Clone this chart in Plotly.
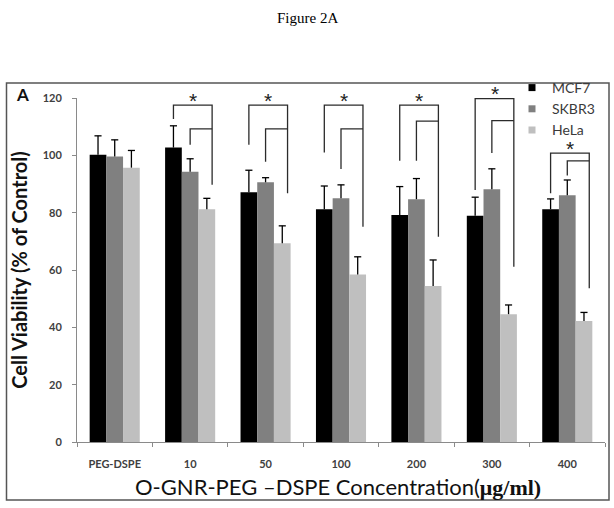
import plotly.graph_objects as go

# ---------------- data ----------------
categories = ["PEG-DSPE", "10", "50", "100", "200", "300", "400"]
series_names = ["MCF7", "SKBR3", "HeLa"]
mcf7 = [100.2, 102.7, 87.1, 81.2, 79.2, 78.9, 81.2]
mcf7_err = [6.6, 7.6, 7.7, 8.1, 9.9, 6.5, 3.6]
skbr3 = [99.6, 94.3, 90.6, 85.0, 84.7, 88.2, 86.1]
skbr3_err = [5.8, 4.5, 1.6, 4.7, 7.2, 7.1, 5.3]
hela = [95.7, 81.2, 69.3, 58.4, 54.4, 44.6, 42.2]
hela_err = [6.0, 3.8, 6.1, 6.2, 9.1, 3.2, 3.0]

# significance brackets (groups 10..400), heights in % of control
bracket_groups = [1, 2, 3, 4, 5, 6]
outer_top = [117.5, 117.5, 117.5, 117.5, 119.8, 100.8]
inner_top = [109.2, 109.2, 109.2, 111.9, 112.1, 98.1]
outer_left_end = [112.7, 103.7, 101.0, 98.1, 87.9, 86.8]
inner_left_end = [103.7, 97.8, 95.2, 98.1, 100.8, 93.0]
right_end = [89.7, 86.8, 75.1, 71.6, 61.1, 53.6]

y_ticks = [0, 20, 40, 60, 80, 100, 120]
Y_MAX = 120

colors = ["#000000", "#808080", "#bfbfbf"]
values = [mcf7, skbr3, hela]
errors = [mcf7_err, skbr3_err, hela_err]

# ---------------- layout geometry ----------------
W, H = 614, 508
ML, MR, MT, MB = 77, 9, 98, 66
PW, PH = W - ML - MR, H - MT - MB
BARGAP = 0.336
bw = (1 - BARGAP) / 3
offsets = [-bw, 0.0, bw]
cap = 0.047
rx = bw + 0.07


def px_x(X):
    return (X - ML) / PW


def px_y(Y):
    return (H - MB - Y) / PH


xs = list(range(len(categories)))

fig = go.Figure()

for name, vals, col in zip(series_names, values, colors):
    fig.add_trace(go.Bar(
        x=xs, y=vals, name=name, marker=dict(color=col, line=dict(width=0)),
        showlegend=False, hoverinfo="y",
    ))

# error bars (upper only)
ex, ey = [], []
for vals, errs, off in zip(values, errors, offsets):
    for i, (v, e) in enumerate(zip(vals, errs)):
        cx = i + off
        ex += [cx, cx, None, cx - cap, cx + cap, None]
        ey += [v, v + e, None, v + e, v + e, None]
fig.add_trace(go.Scatter(x=ex, y=ey, mode="lines", line=dict(color="#000000", width=1.3),
                         showlegend=False, hoverinfo="skip", cliponaxis=False))

# brackets
bx, by = [], []
for g, ot, it, ol, il, re in zip(bracket_groups, outer_top, inner_top,
                                 outer_left_end, inner_left_end, right_end):
    xl_o = g + offsets[0]
    xl_i = g + offsets[1]
    xr = g + rx
    bx += [xl_o, xl_o, xr, xr, None]
    by += [ol, ot, ot, re, None]
    bx += [xl_i, xl_i, xr, None]
    by += [il, it, it, None]
fig.add_trace(go.Scatter(x=bx, y=by, mode="lines", line=dict(color="#2b2b2b", width=1.3),
                         showlegend=False, hoverinfo="skip", cliponaxis=False))

# asterisks (x on data axis, y as fraction of the 0..120 axis)
for g, ot in zip(bracket_groups, outer_top):
    fig.add_annotation(x=g + (offsets[0] + rx) / 2, y=ot / Y_MAX, xref="x", yref="paper",
                       text="*", showarrow=False, xanchor="center", yanchor="middle", yshift=5,
                       font=dict(family="Liberation Sans", size=21, color="#222222"))

# legend entries
for name, col in zip(series_names, colors):
    fig.add_trace(go.Scatter(x=[None], y=[None], mode="markers", name=name,
                             marker=dict(symbol="square", size=7, color=col)))

fig.update_layout(
    width=W, height=H,
    margin=dict(l=ML, r=MR, t=MT, b=MB),
    paper_bgcolor="white", plot_bgcolor="white",
    barmode="group", bargap=BARGAP, bargroupgap=0,
    font=dict(family="Lato", color="#404040"),
    legend=dict(x=px_x(512), y=px_y(72), xanchor="left", yanchor="top",
                font=dict(family="Lato", size=14, color="#3a3a3a"),
                bgcolor="rgba(0,0,0,0)", tracegroupgap=0),
    xaxis=dict(
        range=[-0.5, len(categories) - 0.5],
        tickmode="array", tickvals=xs, ticktext=categories,
        ticks="", showgrid=False, zeroline=False,
        showline=True, linecolor="#8a8a8a", linewidth=1,
        tickfont=dict(family="Lato", size=11, color="#404040", weight="bold"),
        ticklabelstandoff=12,
        minor=dict(tickmode="linear", tick0=-0.5, dtick=1, ticks="outside",
                   ticklen=4, tickcolor="#8a8a8a", tickwidth=1, showgrid=False),
    ),
    yaxis=dict(
        range=[0, Y_MAX], tickmode="array", tickvals=y_ticks,
        ticks="outside", ticklen=4, tickcolor="#8a8a8a",
        showline=True, linecolor="#8a8a8a", linewidth=1,
        showgrid=False, zeroline=False,
        tickfont=dict(family="Lato", size=11, color="#404040", weight="bold"),
        ticklabelstandoff=8,
        title=dict(text="Cell Viability (% of Control)",
                   font=dict(family="Lato", size=20, color="#111111", weight="bold"),
                   standoff=9),
    ),
)

# x-axis title
fig.add_annotation(
    x=px_x(338), y=px_y(486), xref="paper", yref="paper", xanchor="center", yanchor="middle",
    text="O-GNR-PEG \u2013DSPE Concentration(<span style='font-family:Liberation Serif'><b>\u03bcg/ml)</b></span>",
    showarrow=False, font=dict(family="Lato", size=22, color="#111111"))

# panel letter and figure caption
fig.add_annotation(x=px_x(22), y=px_y(94), xref="paper", yref="paper", text="<b>A</b>",
                   xanchor="center", yanchor="middle",
                   showarrow=False, font=dict(family="Lato", size=17, color="#111111"))
fig.add_annotation(x=px_x(307), y=px_y(18), xref="paper", yref="paper", text="Figure 2A",
                   xanchor="center", yanchor="middle",
                   showarrow=False, font=dict(family="Liberation Serif", size=15, color="#000000"))

# outer frame
fig.add_shape(type="rect", xref="paper", yref="paper",
              x0=px_x(6.5), x1=px_x(609), y0=px_y(500), y1=px_y(83),
              line=dict(color="#555555", width=1.5), fillcolor="rgba(0,0,0,0)", layer="below")

fig.write_html("out.html", config={"displayModeBar": False},
               post_script="document.body.style.margin='0px';")
